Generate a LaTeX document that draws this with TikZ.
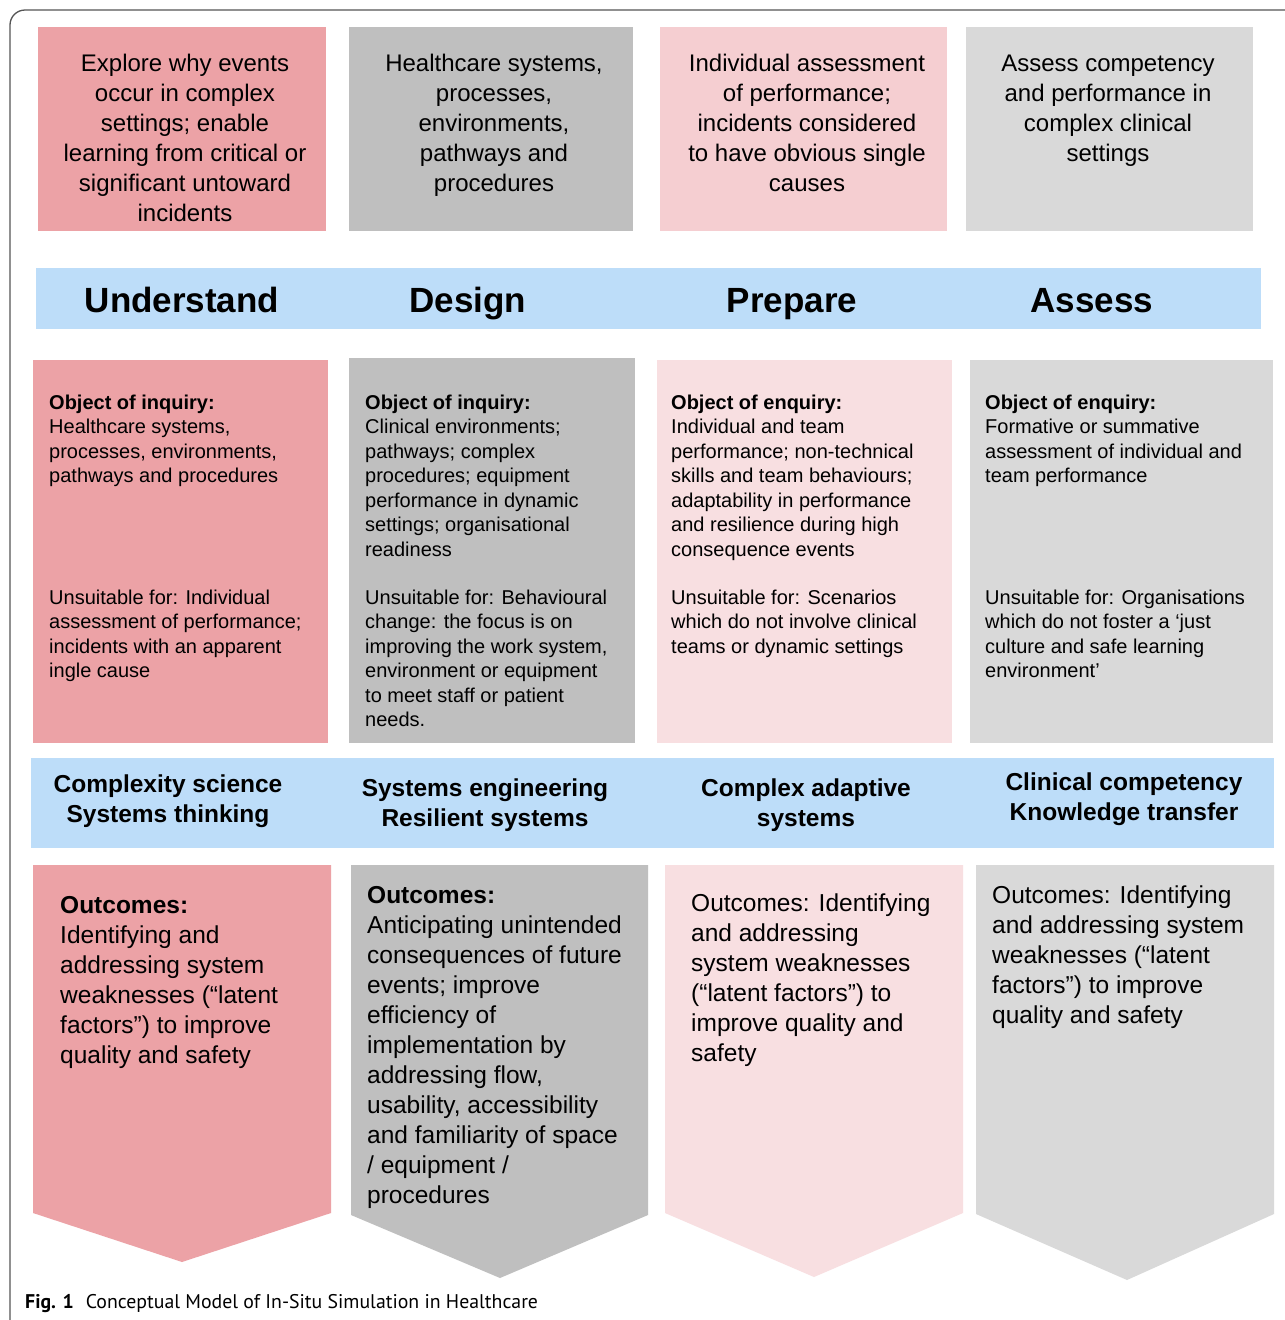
\documentclass[tikz,border=0pt]{standalone}
\usepackage{fontspec}
\setmainfont{Liberation Sans}
\newfontfamily\capfont{PT Sans}
\definecolor{pinkA}{RGB}{236,162,166}
\definecolor{grayB}{RGB}{191,191,191}
\definecolor{pinkC}{RGB}{245,206,209}
\definecolor{pinkL}{RGB}{248,223,225}
\definecolor{grayD}{RGB}{217,217,217}
\definecolor{blueE}{RGB}{189,221,249}
\definecolor{framec}{RGB}{85,85,85}
\begin{document}
\begin{tikzpicture}[x=1pt,y=-1pt,
  toptext/.style={anchor=base, align=center, inner sep=0, font=\fontsize{24}{30}\selectfont},
  bandA/.style={anchor=base, inner sep=0, font=\fontsize{35}{40}\selectfont\bfseries},
  bandB/.style={anchor=base, align=center, inner sep=0, font=\fontsize{24.5}{30}\selectfont\bfseries},
  midtext/.style={anchor=base west, align=left, inner sep=0, font=\fontsize{20}{24.5}\selectfont},
  outtext/.style={anchor=base west, align=left, inner sep=0, font=\fontsize{24.5}{30}\selectfont},
]
\useasboundingbox (0,0) rectangle (1285,1320);
\fill[white] (0,0) rectangle (1285,1320);
% frame
\draw[framec, line width=1.3pt, rounded corners=15pt] (10,1320) -- (10,10) -- (1285,10);

% top boxes (text nodes placed at the baseline of their last line)
\fill[pinkA] (38,27) rectangle (326,231);
\fill[grayB] (349,27) rectangle (633,231);
\fill[pinkC] (660,27) rectangle (947,231);
\fill[grayD] (966,27) rectangle (1253,231);
\node[toptext] (top1) at (185,221) {Explore why events\\occur in complex\\settings; enable\\learning from critical or\\significant untoward\\incidents};
\node[toptext] (top2) at (494,191) {Healthcare systems,\\processes,\\environments,\\pathways and\\procedures};
\node[toptext] (top3) at (807,191) {Individual assessment\\of performance;\\incidents considered\\to have obvious single\\causes};
\node[toptext] (top4) at (1108,161) {Assess competency\\and performance in\\complex clinical\\settings};

% band 1
\fill[blueE] (36,268) rectangle (1261,329);
\node[bandA] (understand) at (182,312) {Understand};
\node[bandA] (design) at (468,312) {Design};
\node[bandA] (prepare) at (792,312) {Prepare};
\node[bandA] (assess) at (1092,312) {Assess};

% middle boxes
\fill[pinkA] (33,360) rectangle (328,743);
\fill[grayB] (349,358) rectangle (635,743);
\fill[pinkL] (657,360) rectangle (952,743);
\fill[grayD] (970,360) rectangle (1273,743);
\node[midtext] (obj1) at (49,482.5) {\textbf{Object of inquiry:}\\Healthcare systems,\\processes, environments,\\pathways and procedures};
\node[midtext] (uns1) at (49,677.5) {Unsuitable for: Individual\\assessment of performance;\\incidents with an apparent\\ingle cause};
\node[midtext] (obj2) at (365,556) {\textbf{Object of inquiry:}\\Clinical environments;\\pathways; complex\\procedures; equipment\\performance in dynamic\\settings; organisational\\readiness};
\node[midtext] (uns2) at (365,726.5) {Unsuitable for: Behavioural\\change: the focus is on\\improving the work system,\\environment or equipment\\to meet staff or patient\\needs.};
\node[midtext] (obj3) at (671,556) {\textbf{Object of enquiry:}\\Individual and team\\performance; non-technical\\skills and team behaviours;\\adaptability in performance\\and resilience during high\\consequence events};
\node[midtext] (uns3) at (671,653) {Unsuitable for: Scenarios\\which do not involve clinical\\teams or dynamic settings};
\node[midtext] (obj4) at (985,482.5) {\textbf{Object of enquiry:}\\Formative or summative\\assessment of individual and\\team performance};
\node[midtext] (uns4) at (985,677.5) {Unsuitable for: Organisations\\which do not foster a `just\\culture and safe learning\\environment'};

% band 2
\fill[blueE] (31,758) rectangle (1274,848);
\node[bandB] (th1) at (168,822) {Complexity science\\Systems thinking};
\node[bandB] (th2) at (485,826) {Systems engineering\\Resilient systems};
\node[bandB] (th3) at (806,826) {Complex adaptive\\systems};
\node[bandB] (th4) at (1124,820) {Clinical competency\\Knowledge transfer};

% outcome arrows
\fill[pinkA] (33,865) -- (331,865) -- (331,1213) -- (182,1262) -- (33,1213) -- cycle;
\fill[grayB] (351,865) -- (648,865) -- (648,1215) -- (500,1278) -- (351,1215) -- cycle;
\fill[pinkL] (665,865) -- (963,865) -- (963,1213) -- (814,1277) -- (665,1213) -- cycle;
\fill[grayD] (976,865) -- (1274,865) -- (1274,1214) -- (1127,1280) -- (976,1214) -- cycle;
\node[outtext] (out1) at (60,1063) {\textbf{Outcomes:}\\Identifying and\\addressing system\\weaknesses (“latent\\factors”) to improve\\quality and safety};
\node[outtext] (out2) at (367,1203) {\textbf{Outcomes:}\\Anticipating unintended\\consequences of future\\events; improve\\efficiency of\\implementation by\\addressing flow,\\usability, accessibility\\and familiarity of space\\/ equipment /\\procedures};
\node[outtext] (out3) at (691,1061) {Outcomes: Identifying\\and addressing\\system weaknesses\\(“latent factors”) to\\improve quality and\\safety};
\node[outtext] (out4) at (992,1023) {Outcomes: Identifying\\and addressing system\\weaknesses (“latent\\factors”) to improve\\quality and safety};

% caption
\node[anchor=base west, inner sep=0, font=\capfont\fontsize{19.8}{24}\selectfont] (caption) at (25,1308) {\textbf{Fig. 1}\hspace{0.6em}Conceptual Model of In-Situ Simulation in Healthcare};
\end{tikzpicture}
\end{document}
